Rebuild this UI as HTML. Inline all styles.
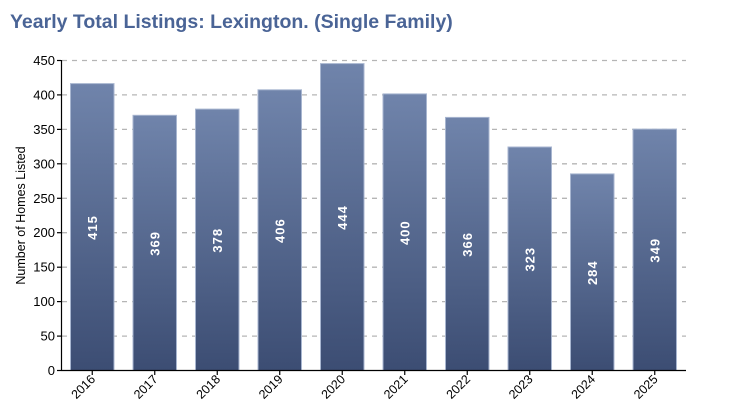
<!DOCTYPE html>
<html><head><meta charset="utf-8"><style>
html,body{margin:0;padding:0;background:#fff;width:730px;height:420px;overflow:hidden}
svg text{font-family:"Liberation Sans","DejaVu Sans",sans-serif}
</style></head><body>
<svg width="730" height="420" viewBox="0 0 730 420" xmlns="http://www.w3.org/2000/svg">
<defs>
<linearGradient id="g" x1="0" y1="0" x2="0" y2="1">
<stop offset="0" stop-color="#7084ab"/><stop offset="1" stop-color="#3c4d73"/>
</linearGradient>
</defs>
<text x="10" y="28" font-size="19.5" font-weight="bold" fill="#4a6496">Yearly Total Listings: Lexington. (Single Family)</text>
<g stroke="#b5b5b5" stroke-width="1.3" stroke-dasharray="5,5">
<line x1="62" y1="60.5" x2="686" y2="60.5"/><line x1="62" y1="94.9" x2="686" y2="94.9"/>
<line x1="62" y1="129.4" x2="686" y2="129.4"/><line x1="62" y1="163.8" x2="686" y2="163.8"/>
<line x1="62" y1="198.3" x2="686" y2="198.3"/><line x1="62" y1="232.7" x2="686" y2="232.7"/>
<line x1="62" y1="267.2" x2="686" y2="267.2"/><line x1="62" y1="301.6" x2="686" y2="301.6"/>
<line x1="62" y1="336.1" x2="686" y2="336.1"/>
</g>
<g fill="url(#g)" stroke="#a8b6d0" stroke-width="1">
<rect x="70.5" y="83.6" width="43.5" height="286.9"/>
<rect x="133" y="115.3" width="43.5" height="255.2"/>
<rect x="195.5" y="109.1" width="43.5" height="261.4"/>
<rect x="258" y="89.8" width="43.5" height="280.7"/>
<rect x="320.5" y="63.6" width="43.5" height="306.9"/>
<rect x="383" y="93.9" width="43.5" height="276.6"/>
<rect x="445.5" y="117.4" width="43.5" height="253.1"/>
<rect x="508" y="147" width="43.5" height="223.5"/>
<rect x="570.5" y="173.9" width="43.5" height="196.6"/>
<rect x="633" y="129.1" width="43.5" height="241.4"/>
</g>
<g fill="#fff" font-size="13" font-weight="bold" text-anchor="middle" style="font-family:'DejaVu Serif','Liberation Serif',serif;letter-spacing:1px">
<text transform="translate(97,227.5) rotate(-90)">415</text>
<text transform="translate(159.5,243.4) rotate(-90)">369</text>
<text transform="translate(222,240.3) rotate(-90)">378</text>
<text transform="translate(284.5,230.6) rotate(-90)">406</text>
<text transform="translate(347,217.5) rotate(-90)">444</text>
<text transform="translate(409.5,232.7) rotate(-90)">400</text>
<text transform="translate(472,244.4) rotate(-90)">366</text>
<text transform="translate(534.5,259.2) rotate(-90)">323</text>
<text transform="translate(597,272.7) rotate(-90)">284</text>
<text transform="translate(659.5,250.3) rotate(-90)">349</text>
</g>
<g stroke="#000" stroke-width="1.2">
<line x1="61.5" y1="60" x2="61.5" y2="371"/>
<line x1="61" y1="370.5" x2="686" y2="370.5"/>
<line x1="57" y1="60.5" x2="61" y2="60.5"/><line x1="57" y1="94.9" x2="61" y2="94.9"/>
<line x1="57" y1="129.4" x2="61" y2="129.4"/><line x1="57" y1="163.8" x2="61" y2="163.8"/>
<line x1="57" y1="198.3" x2="61" y2="198.3"/><line x1="57" y1="232.7" x2="61" y2="232.7"/>
<line x1="57" y1="267.2" x2="61" y2="267.2"/><line x1="57" y1="301.6" x2="61" y2="301.6"/>
<line x1="57" y1="336.1" x2="61" y2="336.1"/><line x1="57" y1="370.5" x2="61" y2="370.5"/>
<line x1="92.25" y1="371" x2="92.25" y2="375"/><line x1="154.75" y1="371" x2="154.75" y2="375"/>
<line x1="217.25" y1="371" x2="217.25" y2="375"/><line x1="279.75" y1="371" x2="279.75" y2="375"/>
<line x1="342.25" y1="371" x2="342.25" y2="375"/><line x1="404.75" y1="371" x2="404.75" y2="375"/>
<line x1="467.25" y1="371" x2="467.25" y2="375"/><line x1="529.75" y1="371" x2="529.75" y2="375"/>
<line x1="592.25" y1="371" x2="592.25" y2="375"/><line x1="654.75" y1="371" x2="654.75" y2="375"/>
</g>
<g font-size="13" fill="#000" text-anchor="end">
<text x="55" y="65">450</text><text x="55" y="99.4">400</text><text x="55" y="133.9">350</text>
<text x="55" y="168.3">300</text><text x="55" y="202.8">250</text><text x="55" y="237.2">200</text>
<text x="55" y="271.7">150</text><text x="55" y="306.1">100</text><text x="55" y="340.6">50</text>
<text x="55" y="375">0</text>
</g>
<text transform="translate(25,215.5) rotate(-90)" font-size="12.5" text-anchor="middle">Number of Homes Listed</text>
<g font-size="12.5" text-anchor="end">
<text transform="translate(96,380) rotate(-45)">2016</text>
<text transform="translate(158.5,380) rotate(-45)">2017</text>
<text transform="translate(221,380) rotate(-45)">2018</text>
<text transform="translate(283.5,380) rotate(-45)">2019</text>
<text transform="translate(346,380) rotate(-45)">2020</text>
<text transform="translate(408.5,380) rotate(-45)">2021</text>
<text transform="translate(471,380) rotate(-45)">2022</text>
<text transform="translate(533.5,380) rotate(-45)">2023</text>
<text transform="translate(596,380) rotate(-45)">2024</text>
<text transform="translate(658.5,380) rotate(-45)">2025</text>
</g>
</svg>
</body></html>
